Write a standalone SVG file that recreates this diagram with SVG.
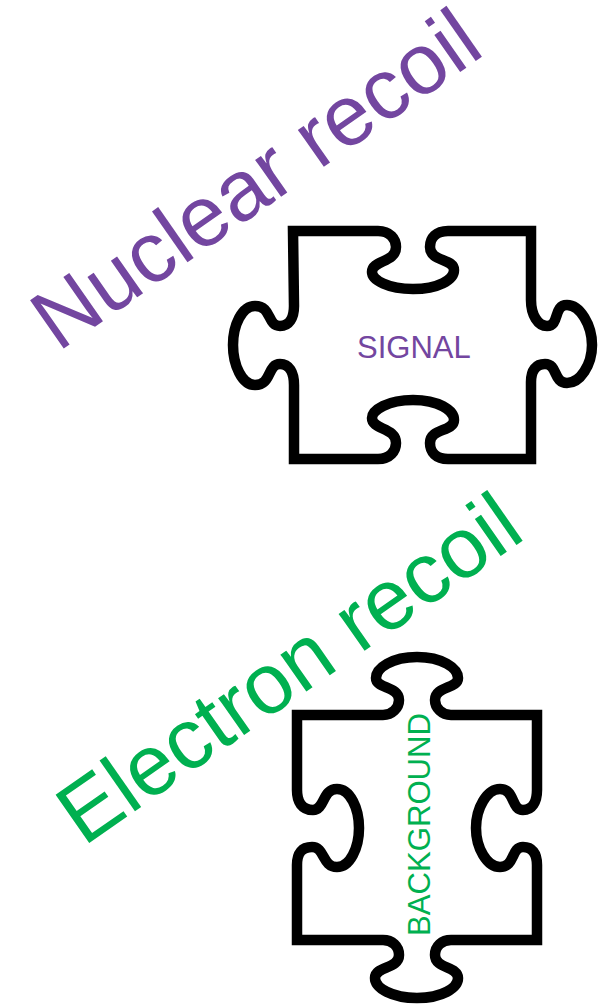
<svg xmlns="http://www.w3.org/2000/svg" width="599" height="1004" viewBox="0 0 599 1004">
<style>
.p{fill:#fff;stroke:#000;stroke-width:10.5;stroke-linejoin:miter}
text{font-family:"Liberation Sans",Arial,sans-serif}
.s{fill:#7346a0}
.b{fill:#00b050}
</style>
<rect width="599" height="1004" fill="#fff"/>
<g id="signal-piece">
<path class="p" d="M293 231H378C390 231 396 239 396 247C396 263 372 260 372 272C372 280 388 289 413 289C438 289 454 280 454 270C454 258 430 262 430 247C430 238 436 231 448 231H531V300C531 315 538 326 547 326C560 326 553 305 567 305C580 305 592 325 592 345C592 365 580 383 567 383C553 383 558 364 545 364C536 364 531 370 531 382V459H448C436 459 430 452 430 443C430 428 454 432 454 420C454 410 438 400 413 400C388 400 372 410 372 418C372 430 396 427 396 443C396 451 390 459 378 459H294V385C294 372 289 364 280 364C267 364 272 385 255 385C242 385 233 365 233 345C233 325 242 306 255 306C272 306 267 326 280 326C289 326 294 318 294 306Z"/>
<text class="s" x="357" y="358" font-size="31">SIGNAL</text>
</g>
<g id="background-piece">
<path class="p" d="M297 715H383C392 715 399 708 399 700C399 686 376 689 376 678C376 668 392 657 417 657C442 657 458 668 458 678C458 689 435 686 435 700C435 708 442 715 451 715H537V790C537 802 532 810 523 810C511 810 515 789 500 789C487 789 476 808 476 828C476 848 487 867 500 867C515 867 511 847 523 847C532 847 537 853 537 865V940H451C442 940 435 946 435 955C435 969 458 966 458 978C458 988 442 998 417 998C392 998 375 988 375 978C375 966 399 969 399 955C399 946 392 940 383 940H297V865C297 853 302 847 312 847C325 847 322 867 337 867C350 867 359 848 359 828C359 808 350 789 337 789C322 789 325 810 313 810C302 810 297 802 297 790Z"/>
<text class="b" transform="translate(430 936) rotate(-90)" font-size="32" textLength="223" lengthAdjust="spacingAndGlyphs">BACKGROUND</text>
</g>
<text class="s" transform="translate(58 352.5) rotate(-34.9)" font-size="85.5">Nuclear recoil</text>
<text class="b" transform="translate(83.5 847) rotate(-34.9)" font-size="85.4">Electron recoil</text>
</svg>
